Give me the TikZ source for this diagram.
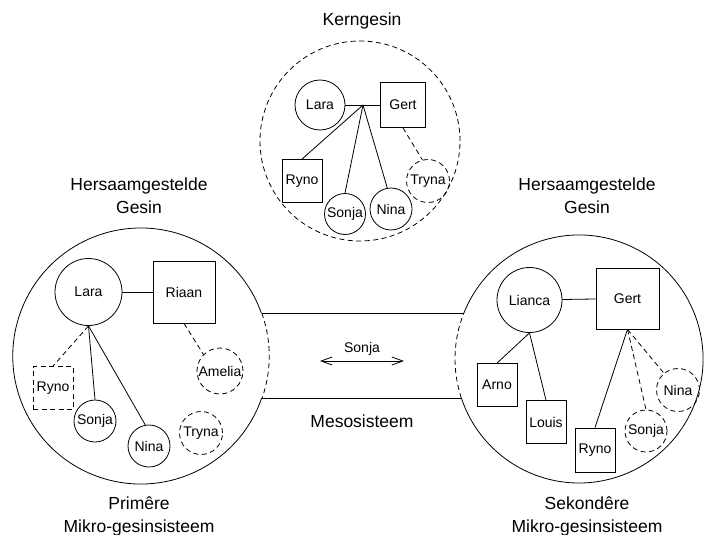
\documentclass[tikz,border=0pt]{standalone}
\usepackage{fontspec}
\setmainfont{Liberation Sans}
\usetikzlibrary{arrows.meta}
\begin{document}
\begin{tikzpicture}[x=1pt,y=1pt,yscale=-1,line width=0.8pt,
  dsh/.style={dash pattern=on 5pt off 3.5pt},
  small/.style={font=\fontsize{14}{16}\selectfont},
  big/.style={font=\fontsize{17.5}{23}\selectfont, align=center},
  fem/.style={circle, draw, inner sep=0pt, minimum size=#1, small},
  mal/.style={rectangle, draw, inner sep=0pt, minimum width=40, minimum height=43, small},
  >={Straight Barb[length=11pt,width=8pt]}]
\useasboundingbox (0,0) rectangle (704,535);

% titles
\node[big] (kern) at (362,21) {Kerngesin};
\node[big] (hl) at (139,196) {Hersaamgestelde\\Gesin};
\node[big] (hr) at (587,196) {Hersaamgestelde\\Gesin};
\node[big] (pl) at (139,516) {Primêre\\Mikro-gesinsisteem};
\node[big] (pr) at (587,516) {Sekondêre\\Mikro-gesinsisteem};
\node[big] (meso) at (362,421) {Mesosisteem};

% top dashed circle (kerngesin)
\node[circle, draw, dsh, minimum size=200, inner sep=0pt] (topc) at (360,141) {};
\node[fem=50] (tLara) at (320,105) {Lara};
\node[mal, minimum width=45, minimum height=45] (tGert) at (403,105) {Gert};
\coordinate (tJ) at (363,105);
\node[mal] (tRyno) at (302,181) {Ryno};
\node[fem=41] (tSonja) at (345,214) {Sonja};
\node[fem=42] (tNina) at (391,209) {Nina};
\node[fem=43, dsh] (tTryna) at (428,181) {Tryna};
\draw (tLara) -- (tGert);
\draw (tJ) -- (tRyno.north);
\draw (tJ) -- (tSonja.north);
\draw (tJ) -- (tNina.100);
\draw[dsh] (tGert.south) -- (tTryna.105);

% big left circle
\coordinate (lc) at (141,356);
\coordinate (LT) at (261.8,313);
\coordinate (LB) at (261.7,398);
\draw (LB) arc[start angle=19.15, end angle=340.37, radius=128];
\draw[dsh] (LT) arc[start angle=-19.63, end angle=19.15, radius=128];

% big right circle
\coordinate (rc) at (579,359);
\coordinate (RT) at (463.9,313);
\coordinate (RB) at (461.3,398);
\draw (RT) arc[start angle=201.77, end angle=521.67, radius=124];
\draw[dsh] (RB) arc[start angle=161.67, end angle=201.77, radius=124];

% mesosystem band
\draw (LT) -- (RT);
\draw (LB) -- (RB);
\coordinate (aL) at (320,361);
\coordinate (aR) at (404,361);
\draw[<->] (aL) -- (aR);
\node[small] (ms) at (362,349) {Sonja};

% left family
\node[fem=67] (lLara) at (88.5,292) {Lara};
\node[mal, minimum width=62, minimum height=62] (lRiaan) at (184,292) {Riaan};
\node[mal, dsh] (lRyno) at (53,388) {Ryno};
\node[fem=42] (lSonja) at (95,421) {Sonja};
\node[fem=42] (lNina) at (149,446) {Nina};
\node[fem=43, dsh] (lTryna) at (201,433) {Tryna};
\node[fem=46, dsh] (lAmelia) at (220,371) {Amelia};
\draw (lLara) -- (lRiaan);
\draw[dsh] (lLara.south) -- (lRyno.north);
\draw (lLara.south) -- (lSonja.north);
\draw (lLara.south) -- (lNina.100);
\draw[dsh] (lRiaan.south) -- (lAmelia.135);

% right family
\node[fem=65] (rLianca) at (529.5,300) {Lianca};
\node[mal, minimum width=63, minimum height=61] (rGert) at (627.5,298.5) {Gert};
\node[mal] (rArno) at (497,385) {Arno};
\node[mal] (rLouis) at (546,422) {Louis};
\node[mal, minimum height=44] (rRyno) at (595,450) {Ryno};
\node[fem=42, dsh] (rSonja) at (646,431) {Sonja};
\node[fem=43, dsh] (rNina) at (678,390) {Nina};
\draw (rLianca) -- (rGert);
\draw (rLianca.south) -- (rArno.north);
\draw (rLianca.south) -- (rLouis.north);
\draw (rGert.south) -- (rRyno.north);
\draw[dsh] (rGert.south) -- (rSonja.north);
\draw[dsh] (rGert.south) -- (rNina.130);
\end{tikzpicture}
\end{document}
